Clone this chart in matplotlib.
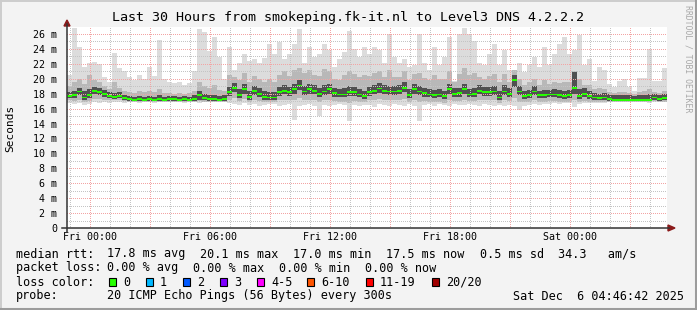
import numpy as np
import matplotlib
matplotlib.use("Agg")
import matplotlib.pyplot as plt
from matplotlib.lines import Line2D
from matplotlib.patches import Rectangle, Polygon

# ---- data (ms), one value per 15 min step, 120 steps over the 30 h window ----
top = [20.5, 26.8, 24.3, 21.6, 22.1, 22.3, 22.0, 20.2, 19.6, 23.4, 21.5, 21.0, 20.2, 19.8, 20.5, 20.0, 21.6, 20.4, 25.2, 20.0,
       19.6, 19.4, 19.5, 19.2, 19.4, 21.0, 26.7, 26.2, 23.7, 25.6, 22.9, 20.0, 24.3, 21.2, 22.1, 23.3, 22.4, 22.6, 22.1, 22.8,
       24.7, 23.3, 24.9, 22.6, 23.3, 24.7, 26.7, 22.1, 24.2, 22.9, 23.3, 24.7, 23.8, 21.6, 22.6, 23.6, 26.4, 24.0, 22.9, 24.2,
       23.3, 24.2, 23.8, 22.1, 26.0, 22.9, 22.1, 22.6, 21.6, 21.9, 26.0, 22.1, 21.2, 24.2, 21.9, 22.9, 25.6, 19.7, 26.0, 26.8,
       26.0, 25.1, 22.1, 21.9, 23.3, 24.7, 21.9, 23.8, 21.2, 21.0, 22.1, 20.9, 21.9, 22.9, 21.6, 24.2, 21.9, 23.3, 24.7, 25.6,
       23.3, 23.8, 25.8, 21.9, 22.6, 19.7, 21.6, 21.2, 19.3, 18.9, 19.7, 20.0, 18.9, 18.4, 20.1, 20.1, 24.0, 19.7, 19.7, 21.4]
upper = [19.0, 19.5, 20.0, 19.3, 20.5, 19.8, 19.6, 19.0, 18.6, 19.5, 18.8, 18.4, 18.2, 18.1, 18.3, 18.2, 18.4, 18.2, 18.6, 18.1,
         18.1, 18.0, 18.1, 18.0, 18.1, 18.4, 19.5, 19.0, 18.8, 19.2, 18.5, 18.3, 20.5, 20.3, 19.8, 20.8, 19.6, 20.4, 20.0, 19.5,
         20.0, 19.6, 20.5, 21.0, 20.4, 21.2, 21.5, 20.8, 21.2, 20.5, 20.4, 21.3, 21.0, 20.0, 19.8, 20.5, 21.0, 20.6, 20.2, 20.5,
         20.4, 20.8, 21.0, 20.2, 21.2, 20.3, 20.2, 21.0, 19.8, 20.6, 20.8, 20.1, 19.8, 20.5, 19.9, 20.0, 21.0, 19.5, 20.6, 21.5,
         20.5, 20.8, 20.2, 19.9, 20.4, 20.6, 19.5, 20.6, 19.6, 21.2, 20.0, 19.2, 19.5, 20.0, 19.2, 19.8, 19.3, 19.6, 19.4, 19.6,
         19.5, 21.0, 20.0, 19.2, 19.2, 18.6, 18.7, 18.6, 18.2, 18.1, 18.2, 18.2, 18.1, 18.0, 18.2, 18.3, 18.6, 18.2, 18.1, 18.3]
dark_hi = [18.2, 18.4, 18.8, 18.3, 18.6, 18.9, 18.7, 18.5, 18.2, 18.1, 18.2, 17.8, 17.7, 17.6, 17.7, 17.6, 17.7, 17.6, 17.8, 17.6,
           17.7, 17.7, 17.6, 17.7, 17.6, 17.8, 18.3, 17.9, 17.8, 17.8, 17.7, 17.8, 18.9, 19.4, 18.6, 19.3, 18.4, 19.0, 18.7, 18.3,
           18.2, 18.2, 18.9, 19.1, 18.9, 19.3, 19.8, 19.0, 19.3, 19.1, 18.7, 19.1, 19.3, 18.8, 18.6, 18.7, 19.0, 18.9, 18.6, 18.4,
           18.9, 19.1, 19.4, 19.1, 19.0, 19.0, 19.1, 19.5, 18.6, 19.3, 19.0, 18.8, 18.6, 18.5, 18.6, 18.4, 19.3, 18.7, 18.8, 19.3,
           18.6, 18.7, 19.1, 18.9, 18.9, 19.0, 18.4, 19.2, 18.7, 20.5, 19.0, 18.4, 18.5, 19.0, 18.4, 18.5, 18.5, 18.6, 18.5, 18.4,
           18.5, 20.9, 18.6, 18.7, 18.3, 18.1, 18.0, 18.1, 17.9, 17.8, 17.8, 17.8, 17.8, 17.7, 17.8, 17.8, 17.9, 18.0, 17.8, 17.9]
median = [17.7, 17.8, 18.3, 17.5, 17.8, 18.4, 18.2, 18.0, 17.7, 17.6, 17.7, 17.4, 17.3, 17.2, 17.3, 17.2, 17.3, 17.2, 17.3, 17.2,
          17.3, 17.3, 17.2, 17.3, 17.2, 17.3, 17.8, 17.4, 17.3, 17.3, 17.2, 17.3, 18.2, 18.8, 17.8, 18.6, 17.6, 18.4, 18.0, 17.6,
          17.5, 17.5, 18.2, 18.4, 18.2, 18.6, 19.1, 18.3, 18.6, 18.4, 18.0, 18.3, 18.6, 18.1, 17.9, 17.9, 18.2, 18.2, 17.9, 17.7,
          18.2, 18.4, 18.7, 18.4, 18.3, 18.3, 18.4, 18.8, 17.8, 18.6, 18.3, 18.1, 17.9, 17.8, 17.9, 17.7, 18.6, 18.0, 18.1, 18.6,
          17.9, 18.0, 18.4, 18.2, 18.2, 18.3, 17.5, 18.3, 18.0, 19.8, 18.3, 17.7, 17.8, 18.3, 17.8, 17.8, 17.9, 17.9, 17.8, 17.7,
          17.8, 18.8, 17.7, 18.0, 17.7, 17.5, 17.4, 17.5, 17.3, 17.2, 17.2, 17.2, 17.2, 17.2, 17.2, 17.2, 17.2, 17.5, 17.3, 17.4]
dark_lo = [17.4, 17.4, 17.8, 17.2, 17.4, 17.9, 17.8, 17.6, 17.4, 17.3, 17.4, 17.1, 17.0, 17.0, 17.0, 17.0, 17.0, 17.0, 17.0, 17.0,
           17.0, 17.0, 17.0, 17.0, 17.0, 17.0, 17.2, 17.1, 17.0, 17.0, 17.0, 17.0, 17.7, 18.2, 17.4, 18.0, 17.2, 17.8, 17.5, 17.2,
           17.2, 17.1, 17.7, 17.9, 17.7, 18.0, 18.5, 17.8, 18.0, 17.9, 17.5, 17.8, 18.0, 17.6, 17.5, 17.5, 17.7, 17.7, 17.5, 17.3,
           17.7, 17.9, 18.1, 17.9, 17.8, 17.8, 17.9, 18.2, 17.4, 18.0, 17.8, 17.6, 17.5, 17.4, 17.5, 17.3, 18.0, 17.6, 17.6, 18.0,
           17.5, 17.6, 17.9, 17.7, 17.7, 17.8, 17.2, 17.8, 17.6, 18.9, 17.8, 17.3, 17.4, 17.8, 17.4, 17.4, 17.5, 17.5, 17.4, 17.3,
           17.4, 18.0, 17.3, 17.6, 17.3, 17.2, 17.1, 17.2, 17.0, 17.0, 17.0, 17.0, 17.0, 17.0, 17.0, 17.0, 17.0, 17.2, 17.0, 17.1]
lo_mid = [17.1, 17.0, 17.2, 16.9, 17.0, 17.3, 17.3, 17.2, 17.1, 17.1, 17.1, 17.0, 16.9, 16.9, 16.9, 16.9, 16.9, 16.9, 16.9, 16.9,
          16.9, 16.9, 16.9, 16.9, 16.9, 16.9, 17.0, 16.9, 16.9, 16.9, 16.9, 16.9, 17.2, 17.4, 17.0, 17.3, 16.9, 17.1, 17.0, 16.9,
          16.9, 16.9, 17.1, 17.2, 17.1, 17.2, 17.4, 17.1, 17.2, 17.1, 16.9, 17.1, 17.2, 17.0, 16.9, 16.9, 16.8, 17.0, 16.9, 16.9,
          17.1, 17.2, 17.3, 17.2, 17.1, 17.1, 17.2, 17.3, 16.9, 17.2, 16.9, 17.0, 16.9, 16.9, 16.9, 16.8, 17.2, 17.0, 17.0, 17.2,
          17.0, 17.0, 17.2, 17.1, 17.1, 17.1, 16.8, 17.1, 17.0, 17.4, 16.9, 16.9, 16.9, 17.1, 16.9, 16.9, 17.0, 17.0, 16.9, 16.9,
          16.9, 17.2, 16.9, 17.0, 16.9, 16.9, 16.9, 16.9, 16.9, 16.9, 16.9, 16.9, 16.9, 16.9, 16.9, 16.9, 16.9, 17.0, 16.9, 16.9]
low = [16.8, 16.6, 16.7, 16.5, 16.6, 16.9, 16.8, 16.9, 16.8, 16.9, 16.9, 16.8, 16.9, 16.9, 16.8, 16.9, 16.9, 16.8, 16.9, 16.9,
       16.9, 16.9, 16.9, 16.8, 16.9, 16.9, 16.8, 16.9, 16.9, 16.9, 16.9, 16.9, 16.8, 16.6, 16.5, 16.7, 16.5, 16.6, 16.4, 16.5,
       16.6, 16.6, 16.4, 16.5, 16.6, 14.5, 16.3, 16.5, 16.6, 16.4, 15.0, 16.5, 16.3, 16.5, 16.6, 16.5, 14.3, 16.5, 16.4, 16.5,
       16.5, 16.2, 16.6, 16.5, 16.4, 16.6, 16.5, 16.4, 16.6, 16.4, 14.3, 16.5, 16.6, 16.4, 16.6, 16.5, 16.3, 16.6, 16.5, 16.5,
       16.6, 16.5, 16.4, 16.6, 16.5, 16.4, 16.5, 16.4, 16.5, 16.3, 15.8, 16.3, 16.5, 16.6, 16.5, 16.6, 16.6, 16.7, 16.6, 16.7,
       16.7, 16.2, 16.6, 16.7, 16.8, 16.8, 16.8, 16.8, 16.9, 16.9, 16.9, 16.9, 16.9, 16.9, 16.9, 16.9, 16.8, 16.9, 16.9, 16.9]

start_h = -1.15          # window start, hours relative to Fri 00:00
step_h = 0.25
tick_hours = [0, 6, 12, 18, 24]
tick_labels = ["Fri 00:00", "Fri 06:00", "Fri 12:00", "Fri 18:00", "Sat 00:00"]
y_ticks = list(range(0, 27, 2))
y_labels = ["0"] + [f"{v} m" for v in y_ticks[1:]]

loss_labels = ["0", "1", "2", "3", "4-5", "6-10", "11-19", "20/20"]
loss_colors = ["#26ff00", "#00b8ff", "#0059ff", "#7e00ff", "#ff00ff", "#ff5500", "#ff0000", "#a00000"]

W, H = 697, 310
plt.rcParams["font.family"] = "DejaVu Sans Mono"
plt.rcParams["lines.scale_dashes"] = False

fig = plt.figure(figsize=(W / 100, H / 100), dpi=100, facecolor="#f3f3f3")
ax = fig.add_axes([67 / W, (H - 228) / H, 600 / W, 201.5 / H])
ax.set_facecolor("white")
ax.set_xlim(start_h, start_h + 30)
ax.set_ylim(0, 27)

t = start_h + step_h / 2 + step_h * np.arange(len(median))
top, upper, dark_hi = np.array(top), np.array(upper), np.array(dark_hi)
median, dark_lo, lo_mid, low = np.array(median), np.array(dark_lo), np.array(lo_mid), np.array(low)

# smoke, light outer band to dark inner band
ax.bar(t, top - low, bottom=low, width=step_h, color="#dcdcdc", linewidth=0, zorder=1)
ax.bar(t, upper - lo_mid, bottom=lo_mid, width=step_h, color="#b8b8b8", linewidth=0, zorder=1.1)
ax.bar(t, dark_hi - dark_lo, bottom=dark_lo, width=step_h, color="#505050", linewidth=0, zorder=1.2)

# grid (drawn over the smoke like rrdtool does), 1 px on / 2 px off
dot = (0, (0.72, 1.44))
grid_kw = dict(lw=0.72, ls=dot, antialiased=False)
for v in range(1, 27, 2):
    ax.axhline(v, color="#c4c4c4", zorder=2, **grid_kw)
for v in range(2, 27, 2):
    ax.axhline(v, color="#f3a4a4", zorder=2.1, **grid_kw)
for h in range(-1, 29):
    if h % 3:
        ax.axvline(h, color="#c4c4c4", zorder=2, **grid_kw)
for h in range(0, 29, 3):
    ax.axvline(h, color="#f3a4a4", zorder=2.1, **grid_kw)

# median, coloured by loss (all 0 here)
ax.bar(t, 0.24, bottom=median - 0.12, width=step_h, color=loss_colors[0], linewidth=0, zorder=3)

ax.set_xticks(tick_hours)
ax.set_xticklabels(tick_labels, fontsize=7.2)
ax.set_yticks(y_ticks)
ax.set_yticklabels(y_labels, fontsize=7.2)
ax.tick_params(length=0, pad=3)
ax.tick_params(axis="y", pad=7)
for s in ax.spines.values():
    s.set_visible(False)


def fx(x):
    return x / W


def fy(y):
    return 1 - y / H


# axis lines and arrows
fig.add_artist(Line2D([fx(67), fx(67)], [fy(24), fy(232)], color="#333333", lw=1.1))
fig.add_artist(Line2D([fx(62), fx(669)], [fy(228), fy(228)], color="#333333", lw=1.1))
fig.add_artist(Polygon([[fx(64), fy(26)], [fx(70), fy(26)], [fx(67), fy(20)]], closed=True, color="#8b1a1a"))
fig.add_artist(Polygon([[fx(668), fy(225)], [fx(668), fy(231)], [fx(675), fy(228)]], closed=True, color="#8b1a1a"))

# canvas frame
fig.add_artist(Line2D([0, 1], [fy(0.5), fy(0.5)], color="#cccccc", lw=1.4))
fig.add_artist(Line2D([fx(0.5), fx(0.5)], [0, 1], color="#cccccc", lw=1.4))
fig.add_artist(Line2D([0, 1], [fy(308.5), fy(308.5)], color="#9c9c9c", lw=2.2))
fig.add_artist(Line2D([fx(695.5), fx(695.5)], [0, 1], color="#9c9c9c", lw=2.2))

fig.text(0.5, fy(18), "Last 30 Hours from smokeping.fk-it.nl to Level3 DNS 4.2.2.2",
         ha="center", va="center", fontsize=9.6)
fig.text(fx(10), fy(128), "Seconds", rotation=90, ha="center", va="center", fontsize=8)
fig.text(fx(688), fy(59), "RRDTOOL / TOBI OETIKER", rotation=270, ha="center", va="center",
         fontsize=5.9, color="#a8a8a8")

# legend rows
fs = 8.5
rows_y = [254, 268, 282, 296]
fig.text(fx(16), fy(rows_y[0]), "median rtt:", va="center", fontsize=fs)
for x, s in [(107, "17.8 ms avg"), (200, "20.1 ms max"), (293, "17.0 ms min"),
             (386, "17.5 ms now"), (480, "0.5 ms sd"), (558, "34.3   am/s")]:
    fig.text(fx(x), fy(rows_y[0]), s, va="center", fontsize=fs)
fig.text(fx(16), fy(rows_y[1]), "packet loss:", va="center", fontsize=fs)
for x, s in [(107, "0.00 % avg"), (193, "0.00 % max"), (279, "0.00 % min"), (365, "0.00 % now")]:
    fig.text(fx(x), fy(rows_y[1]), s, va="center", fontsize=fs)
fig.text(fx(16), fy(rows_y[2]), "loss color:", va="center", fontsize=fs)
box_x = [108.5, 145.5, 182.5, 219.5, 256.5, 306.5, 365.5, 431.5]
for bx, lab, col in zip(box_x, loss_labels, loss_colors):
    fig.add_artist(Rectangle((fx(bx), fy(rows_y[2] + 4)), 7 / W, 8 / H, facecolor=col,
                             edgecolor="black", lw=0.8))
    fig.text(fx(bx + 14.5), fy(rows_y[2]), lab, va="center", fontsize=fs)
fig.text(fx(16), fy(rows_y[3]), "probe:", va="center", fontsize=fs)
fig.text(fx(107), fy(rows_y[3]), "20 ICMP Echo Pings (56 Bytes) every 300s", va="center", fontsize=fs)
fig.text(fx(684), fy(rows_y[3]), "Sat Dec  6 04:46:42 2025", ha="right", va="center", fontsize=fs)

fig.savefig("out.png", dpi=100, facecolor=fig.get_facecolor())
